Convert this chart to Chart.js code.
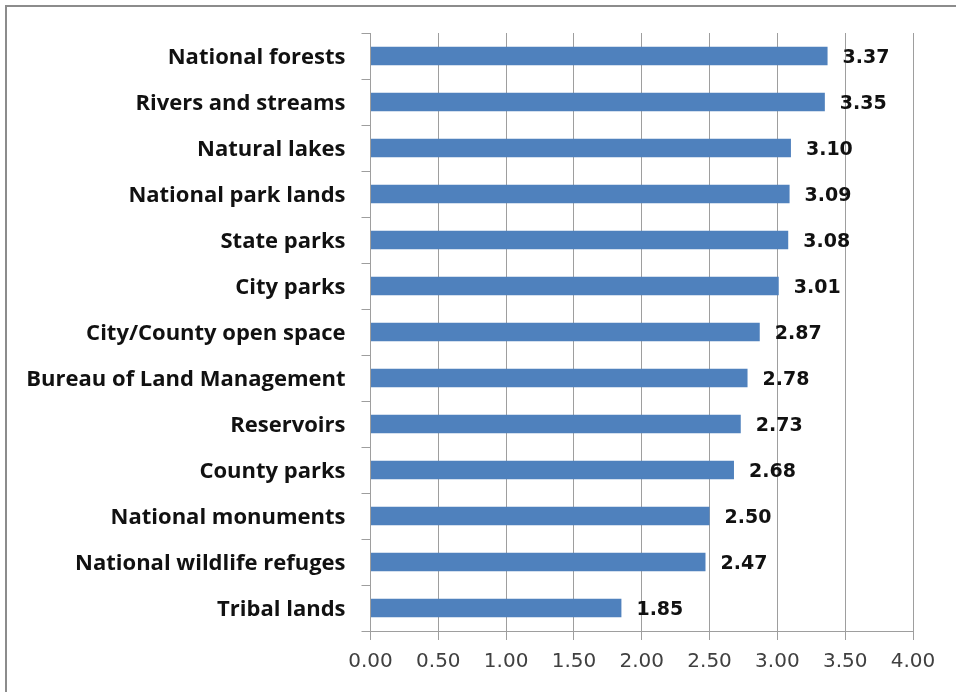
<!DOCTYPE html>
<html>
<head>
<meta charset="utf-8">
<style>
  html, body { margin: 0; padding: 0; background: #fff; }
  #wrap { position: relative; width: 956px; height: 692px; overflow: hidden; }
  #frame { position: absolute; left: 5px; top: 5px; width: 1000px; height: 1000px;
           border-top: 2px solid #8c8c8c; border-left: 2px solid #8c8c8c; pointer-events: none; }
</style>
</head>
<body>
<div id="wrap">
  <canvas id="chart" width="956" height="692"></canvas>
  <div id="frame"></div>
</div>
<script src="https://cdn.jsdelivr.net/npm/chart.js@4/dist/chart.umd.min.js"></script>
<script>
  // Land types, top to bottom as drawn
  const places = [
    'National forests', 'Rivers and streams', 'Natural lakes', 'National park lands',
    'State parks', 'City parks', 'City/County open space', 'Bureau of Land Management',
    'Reservoirs', 'County parks', 'National monuments', 'National wildlife refuges', 'Tribal lands'
  ];
  const scores = [3.37, 3.35, 3.10, 3.09, 3.08, 3.01, 2.87, 2.78, 2.73, 2.68, 2.50, 2.47, 1.85];
  const axisTicks = [0, 0.5, 1, 1.5, 2, 2.5, 3, 3.5, 4];

  // value labels at the end of each bar
  const valueLabels = {
    id: 'valueLabels',
    afterDatasetsDraw(chart) {
      const ctx = chart.ctx;
      const meta = chart.getDatasetMeta(0);
      ctx.save();
      ctx.font = 'bold 19px "DejaVu Sans"';
      ctx.fillStyle = '#111';
      ctx.textAlign = 'left';
      ctx.textBaseline = 'middle';
      meta.data.forEach((bar, i) => {
        ctx.fillText(scores[i].toFixed(2), bar.x + 15, bar.y + 2);
      });
      ctx.restore();
    }
  };

  new Chart(document.getElementById('chart'), {
    type: 'bar',
    data: {
      labels: places,
      datasets: [{
        data: scores,
        backgroundColor: '#4f81bd',
        categoryPercentage: 1,
        barPercentage: 0.4,
      }]
    },
    options: {
      indexAxis: 'y',
      responsive: false,
      animation: false,
      layout: { padding: { top: 33, right: 43, left: 0, bottom: 0 } },
      plugins: { legend: { display: false }, tooltip: { enabled: false } },
      scales: {
        x: {
          min: 0, max: 4,
          afterBuildTicks: s => { s.ticks = axisTicks.map(v => ({ value: v })); },
          afterFit: s => { s.height = 61; },
          grid: { color: '#9e9e9e', lineWidth: 1, tickLength: 9, drawTicks: true },
          border: { color: '#9e9e9e' },
          ticks: {
            padding: 10,
            color: '#404040',
            font: { family: '"DejaVu Sans"', size: 20 },
            callback: v => Number(v).toFixed(2),
          }
        },
        y: {
          afterFit: s => { s.width = 370.5; },
          grid: { drawOnChartArea: false, color: '#9e9e9e', tickLength: 9, offset: true },
          border: { color: '#9e9e9e' },
          ticks: {
            padding: 16,
            labelOffset: 2,
            color: '#111',
            font: { family: '"Open Sans"', size: 22, weight: 'bold' },
          }
        }
      }
    },
    plugins: [valueLabels]
  });
</script>
</body>
</html>
